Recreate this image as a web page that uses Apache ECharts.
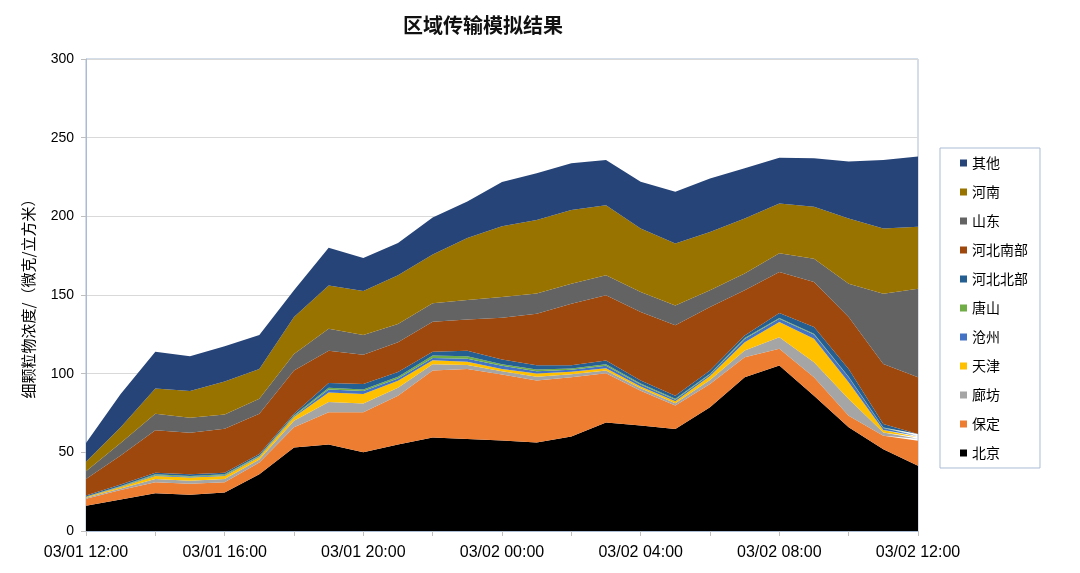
<!DOCTYPE html>
<html>
<head>
<meta charset="utf-8">
<title>区域传输模拟结果</title>
<script src="https://cdn.jsdelivr.net/npm/echarts@6/dist/echarts.min.js"></script>
<style>
  html, body { margin: 0; padding: 0; background: #fff; }
  #chart { width: 1080px; height: 573px; }
</style>
</head>
<body>
<div id="chart"></div>
<script>
// 时间轴
const hours = [
  '03/01 12:00', '03/01 13:00', '03/01 14:00', '03/01 15:00', '03/01 16:00',
  '03/01 17:00', '03/01 18:00', '03/01 19:00', '03/01 20:00', '03/01 21:00',
  '03/01 22:00', '03/01 23:00', '03/02 00:00', '03/02 01:00', '03/02 02:00',
  '03/02 03:00', '03/02 04:00', '03/02 05:00', '03/02 06:00', '03/02 07:00',
  '03/02 08:00', '03/02 09:00', '03/02 10:00', '03/02 11:00', '03/02 12:00'
]

// 各区域贡献 (微克/立方米), 从下往上堆叠
const beijing = [16, 20, 24, 23, 24.5, 36, 53, 55, 50, 55, 59.5, 58.5, 57.5, 56.3, 60, 69, 67, 64.8, 78.6, 97.7, 105.2, 86, 65.9, 52, 41.4]
const baoding = [4.5, 6, 7, 7, 6.5, 7.5, 13, 20.5, 25.5, 31, 42.5, 44.5, 42, 39.3, 37.7, 31.3, 22.2, 14.9, 14.9, 12.8, 10.6, 11.7, 7.4, 8.5, 16]
const langfang = [0.6, 1, 2, 2, 2, 2, 4, 6.5, 5.5, 5, 4, 2.5, 2, 2.5, 2, 1.7, 1.5, 1.5, 2.5, 4.2, 7.4, 9.6, 10.6, 2.1, 1.2]
const tianjin = [0.5, 1, 2, 2, 2, 1.5, 2.5, 6, 6, 4.5, 2.5, 2, 1.5, 2, 1.5, 1.5, 1.2, 1.2, 2.5, 5.3, 9.6, 14.9, 10.6, 1.6, 1]
const cangzhou = [0.2, 0.3, 0.5, 0.5, 0.5, 0.5, 0.5, 2, 2, 1.5, 1.5, 2, 2, 1.5, 1.3, 1.5, 1.2, 1, 1, 2.1, 2.1, 2.7, 3.2, 1.2, 0.8]
const tangshan = [0.2, 0.3, 0.5, 0.5, 0.5, 0.5, 0.5, 1, 1, 1, 1.5, 1.5, 1, 1, 0.8, 1, 0.7, 0.6, 0.5, 0.5, 0.5, 0.5, 0.4, 0.4, 0.3]
const hebeiNorth = [0.5, 0.9, 1, 1, 1, 1, 1, 3, 3.5, 3, 2.5, 3.5, 3, 2.7, 2, 2.4, 1.8, 2, 2, 1.7, 3.1, 4.2, 4.9, 2.2, 0.9]
const hebeiSouth = [10.5, 18.5, 27, 26.5, 28, 25.5, 27.5, 20.5, 18.5, 19, 19, 20, 26.5, 32.8, 39.2, 41.4, 43.6, 44.7, 40.3, 28.7, 26.1, 28.7, 33, 38.2, 36.1]
const shandong = [5, 8, 10.5, 9.5, 9, 9.5, 10.5, 14, 12.5, 11.5, 11.7, 12.3, 13.2, 12.8, 12.7, 12.7, 12.7, 12.7, 10.7, 10.6, 11.9, 14.8, 21.2, 44.6, 56.3]
const henan = [6, 10, 16, 17, 21, 19, 23.5, 27.5, 28, 31, 31, 39.4, 45, 46.8, 46.8, 44.6, 40.4, 39.3, 37.1, 35, 31.7, 33, 41.4, 41.5, 39.3]
const other = [12, 21, 23.5, 22, 22.5, 21.5, 17, 24, 21, 20.5, 23.5, 23.3, 28.2, 29.7, 29.7, 28.7, 29.7, 32.9, 34, 31.9, 29, 30.8, 36.2, 43.5, 44.7]

// 名称 / 数据 / 颜色 (堆叠顺序)
const layers = [
  ['北京', beijing, '#000000'],
  ['保定', baoding, '#ed7d31'],
  ['廊坊', langfang, '#a5a5a5'],
  ['天津', tianjin, '#ffc000'],
  ['沧州', cangzhou, '#4472c4'],
  ['唐山', tangshan, '#70ad47'],
  ['河北北部', hebeiNorth, '#255e91'],
  ['河北南部', hebeiSouth, '#9e480e'],
  ['山东', shandong, '#636363'],
  ['河南', henan, '#997300'],
  ['其他', other, '#264478']
]

const font = "'Liberation Sans', 'Noto Sans CJK SC', sans-serif"
const frameColor = '#a9bcd4'

const series = layers.map(([name, data, color]) => ({
  name: name,
  type: 'line',
  stack: 'total',
  data: data,
  symbol: 'none',
  lineStyle: { width: 0 },
  itemStyle: { color: color },
  areaStyle: { color: color, opacity: 1 }
}))

const option = {
  animation: false,
  backgroundColor: '#fff',
  textStyle: { fontFamily: font, color: '#000' },
  title: {
    text: '区域传输模拟结果',
    left: 398,
    top: 10,
    textStyle: { fontFamily: "'Noto Sans CJK SC', sans-serif", fontSize: 20, fontWeight: 'bold', color: '#111' }
  },
  legend: {
    orient: 'vertical',
    left: 940,
    top: 148,
    padding: [8, 12, 8, 20],
    itemGap: 15,
    itemWidth: 7,
    itemHeight: 7,
    icon: 'rect',
    borderColor: frameColor,
    borderWidth: 1,
    textStyle: { fontSize: 14, color: '#000', fontFamily: "'Noto Sans CJK SC', sans-serif" },
    // 图例从上到下与堆叠顺序相反
    data: layers.map(l => l[0]).reverse()
  },
  grid: {
    left: 86,
    right: 162,
    top: 59,
    bottom: 42,
    show: true,
    borderColor: frameColor,
    borderWidth: 1
  },
  xAxis: {
    type: 'category',
    boundaryGap: false,
    data: hours,
    axisLine: { show: true, lineStyle: { color: frameColor } },
    axisTick: { show: true, interval: 1, length: 5, lineStyle: { color: '#bfbfbf' } },
    axisLabel: { interval: 3, fontSize: 16, margin: 14, color: '#000' },
    splitLine: { show: false }
  },
  yAxis: {
    type: 'value',
    min: 0,
    max: 300,
    interval: 50,
    name: '细颗粒物浓度/（微克/立方米）',
    nameLocation: 'middle',
    nameGap: 50,
    nameTextStyle: { fontSize: 15, color: '#000', fontFamily: "'Noto Sans CJK SC', sans-serif" },
    axisLine: { show: true, lineStyle: { color: frameColor } },
    axisTick: { show: true, length: 5, lineStyle: { color: '#bfbfbf' } },
    axisLabel: { fontSize: 14, margin: 12, color: '#000' },
    splitLine: { show: true, lineStyle: { color: '#d9d9d9' } }
  },
  series: series
}

const myChart = echarts.init(document.getElementById('chart'))
myChart.setOption(option)
</script>
</body>
</html>
